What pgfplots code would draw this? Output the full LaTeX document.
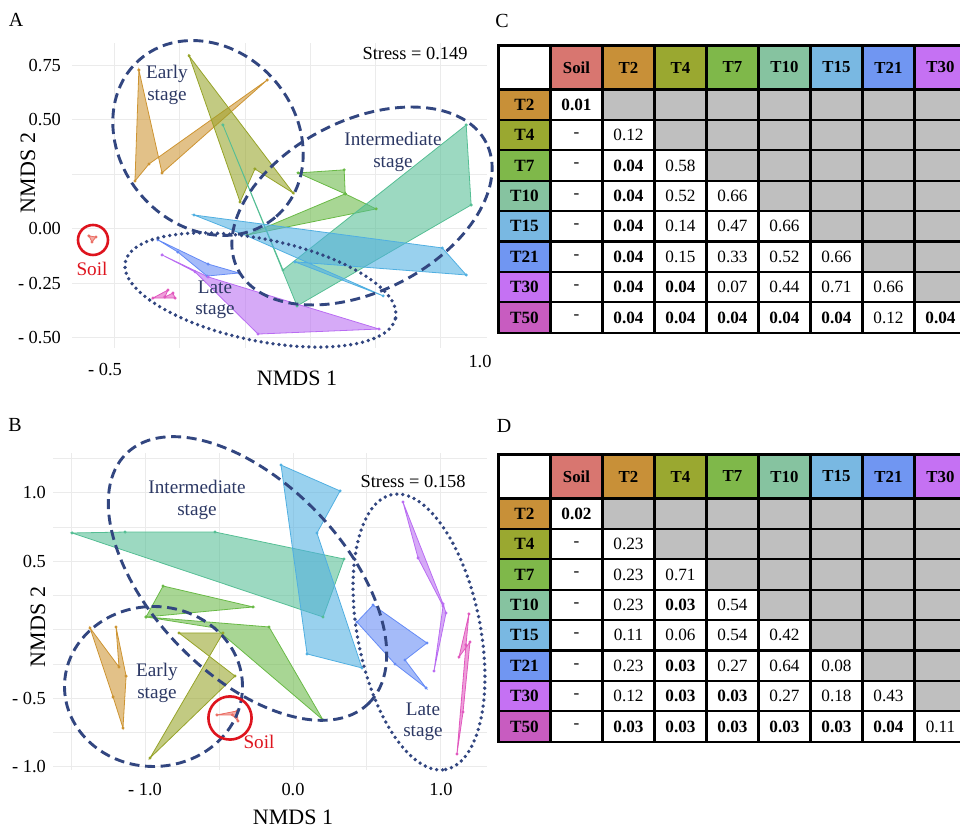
\documentclass[border=0pt]{standalone}
\usepackage{fontspec}
\setmainfont{Liberation Serif}
\usepackage{pgfplots}
\pgfplotsset{compat=1.18}
\usetikzlibrary{matrix}
\definecolor{cSoil}{RGB}{235,110,100}
\definecolor{cT2}{RGB}{205,148,50}
\definecolor{cT4}{RGB}{150,163,40}
\definecolor{cT7}{RGB}{105,185,70}
\definecolor{cT10}{RGB}{85,190,148}
\definecolor{cT15}{RGB}{80,175,225}
\definecolor{cT21}{RGB}{100,138,245}
\definecolor{cT30}{RGB}{185,108,242}
\definecolor{cT50}{RGB}{225,88,190}
\definecolor{hSoil}{RGB}{216,118,112}
\definecolor{hT2}{RGB}{200,144,56}
\definecolor{hT4}{RGB}{154,168,48}
\definecolor{hT7}{RGB}{127,184,74}
\definecolor{hT10}{RGB}{134,195,160}
\definecolor{hT15}{RGB}{121,184,226}
\definecolor{hT21}{RGB}{112,150,242}
\definecolor{hT30}{RGB}{197,113,243}
\definecolor{hT50}{RGB}{200,92,192}
\definecolor{cellgray}{RGB}{191,191,191}
\definecolor{navy}{RGB}{50,70,128}
\definecolor{navytext}{RGB}{44,56,100}
\definecolor{soilred}{RGB}{222,20,30}
\definecolor{gridc}{RGB}{235,235,235}
\pgfplotsset{
  poly/.style={draw=#1, fill=#1, fill opacity=0.58, line width=0.4pt,
    mark=*, mark size=0.55pt, mark options={solid, fill=#1, draw=#1, fill opacity=1}},
  nmds/.style={scale only axis, anchor=south west,
    axis line style={draw=none}, tick style={draw=none},
    grid=major, major grid style={gridc, line width=0.5pt},
    ticklabel style={font=\fontsize{9.2}{10}\selectfont},
  }
}
\tikzset{
  dashell/.style={navy, line width=1.45pt, dash pattern=on 5pt off 2.8pt},
  dotell/.style={navy, line width=1.9pt, dash pattern=on 0pt off 3pt, line cap=round},
  stg/.style={navytext, align=center, font=\fontsize{9.6}{10.6}\selectfont},
  tbl/.style={matrix of nodes, nodes in empty cells, anchor=north west, inner sep=0pt,
    column sep=-1.1pt, row sep=-1.1pt,
    nodes={draw=black, line width=1.1pt, minimum width=26pt, minimum height=15.2pt,
      inner sep=0pt, outer sep=0pt, anchor=center, font=\fontsize{8.6}{9.6}\selectfont},
    row 1/.style={nodes={minimum height=22pt, font=\bfseries\fontsize{8.4}{9.6}\selectfont}},
    column 1/.style={nodes={font=\bfseries\fontsize{8.6}{9.6}\selectfont}}},
  g/.style={fill=cellgray}
}
\begin{document}
\begin{tikzpicture}
\useasboundingbox (0,0) rectangle (480pt,415pt);

% ---------------- Panel A ----------------
\begin{axis}[nmds, at={(36pt,241pt)}, width=207.5pt, height=152.5pt,
  xmin=-0.665, xmax=0.93, ymin=-0.546, ymax=0.853,
  xtick={-0.5,-0.25,0,0.25,0.5,0.75}, xticklabels={,,,,,},
  ytick={-0.5,-0.25,0,0.25,0.5,0.75}, yticklabels={- 0.50,- 0.25,0.00,,0.50,0.75},
  yticklabel style={xshift=-2pt}]
\addplot[poly=cT2] coordinates {(-0.408,0.729) (-0.319,0.257) (0.085,0.683) (-0.369,0.298) (-0.423,0.220)} --cycle;
\addplot[poly=cT4] coordinates {(-0.215,0.794) (-0.019,0.124) (0.038,0.275) (0.185,0.165)} --cycle;
\addplot[poly=cT7] coordinates {(0.204,0.257) (0.381,0.271) (0.385,0.161) (0.504,0.092) (0.008,-0.028) (0.385,0.161)} --cycle;
\addplot[poly=cT10] coordinates {(-0.085,0.477) (0.146,-0.188) (0.85,0.477) (0.869,0.110) (0.2,-0.353)} --cycle;
\addplot[poly=cT15] coordinates {(-0.196,0.064) (0.758,-0.087) (0.85,-0.211) (0.192,-0.151) (0.531,-0.307) (0.008,-0.032)} --cycle;
\addplot[poly=cT21] coordinates {(-0.335,-0.050) (-0.142,-0.161) (-0.023,-0.202) (-0.146,-0.216) (-0.258,-0.106)} --cycle;
\addplot[poly=cT30] coordinates {(-0.319,-0.119) (-0.142,-0.220) (0.515,-0.459) (0.05,-0.482) (-0.192,-0.197)} --cycle;
\addplot[poly=cT50] coordinates {(-0.354,-0.317) (-0.296,-0.280) (-0.308,-0.312) (-0.277,-0.294) (-0.269,-0.317)} --cycle;
\addplot[poly=cSoil] coordinates {(-0.600,-0.032) (-0.573,-0.037) (-0.588,-0.060)} --cycle;
\end{axis}

% ---------------- Panel B ----------------
\begin{axis}[nmds, at={(26.5pt,30pt)}, width=217pt, height=158.5pt,
  xmin=-1.622, xmax=1.311, ymin=-1.022, ymax=1.292,
  xtick={-1.5,-1,-0.5,0,0.5,1}, xticklabels={,- 1.0,,0.0,,1.0},
  xticklabel style={yshift=-3pt},
  ytick={-1,-0.75,-0.5,-0.25,0,0.25,0.5,0.75,1,1.25},
  yticklabels={- 1.0,,- 0.5,,,,0.5,,1.0,}]
\addplot[poly=cT2] coordinates {(-1.372,0.015) (-1.176,-0.270) (-1.196,0.022) (-1.128,-0.336) (-1.149,-0.715) (-1.216,-0.489)} --cycle;
\addplot[poly=cT4] coordinates {(-0.770,-0.022) (-0.473,-0.022) (-0.966,-0.934) (-0.392,-0.336)} --cycle;
\addplot[poly=cT7] coordinates {(-0.878,0.321) (-0.270,0.168) (-0.993,0.095) (-0.162,0.022) (0.203,-0.657) (-0.527,0.015) (-0.993,0.095)} --cycle;
\addplot[poly=cT10] coordinates {(-1.493,0.708) (-1.135,0.715) (-0.527,0.715) (0.345,0.518) (0.203,0.095)} --cycle;
\addplot[poly=cT15] coordinates {(-0.081,1.204) (0.318,1.015) (0.162,0.708) (0.466,-0.277) (0.095,-0.175)} --cycle;
\addplot[poly=cT21] coordinates {(0.432,0.058) (0.541,0.182) (0.905,-0.095) (0.757,-0.219) (0.899,-0.423) (0.689,-0.248)} --cycle;
\addplot[poly=cT30] coordinates {(0.743,0.934) (1.014,0.190) (1.034,0.124) (0.953,-0.299) (1.014,0.175) (0.845,0.526)} --cycle;
\addplot[poly=cT50] coordinates {(1.189,0.117) (1.122,-0.197) (1.196,-0.088) (1.149,-0.599) (1.108,-0.905) (1.169,-0.109)} --cycle;
\addplot[poly=cSoil] coordinates {(-0.514,-0.620) (-0.378,-0.591) (-0.372,-0.664) (-0.41,-0.62)} --cycle;
\end{axis}

% ---------------- Annotations A ----------------
\draw[dashell, rotate around={-49:(104pt,346pt)}] (104pt,346pt) ellipse [x radius=52pt, y radius=44pt];
\draw[dashell, rotate around={27:(181pt,312pt)}] (181pt,312pt) ellipse [x radius=69.7pt, y radius=42.7pt];
\draw[dotell, rotate around={-11.7:(130.25pt,270pt)}] (130.25pt,270pt) ellipse [x radius=69pt, y radius=25.4pt];
\draw[soilred, line width=1.3pt] (46.5pt,295pt) circle [radius=7.5pt];
\node[stg] at (83.5pt,372.5pt) {Early\\stage};
\node[stg] at (196.5pt,339pt) {Intermediate\\stage};
\node[stg] at (107.5pt,265pt) {Late\\stage};
\node[soilred, font=\fontsize{9.6}{10.6}\selectfont] at (46pt,280.5pt) {Soil};
\node[font=\fontsize{9.2}{10}\selectfont] at (207.5pt,388pt) {Stress = 0.149};
\node[font=\fontsize{9.2}{10}\selectfont] at (52.5pt,230pt) {- 0.5};
\node[font=\fontsize{9.2}{10}\selectfont] at (240pt,234pt) {1.0};
\node[font=\fontsize{11}{12}\selectfont] at (148.5pt,226pt) {NMDS 1};
\node[font=\fontsize{11}{12}\selectfont, rotate=90] at (14pt,328.5pt) {NMDS 2};
\node[font=\fontsize{10}{11}\selectfont] at (8pt,405pt) {A};

% ---------------- Annotations B ----------------
\draw[dashell] (76.75pt,71.75pt) ellipse [x radius=44.5pt, y radius=40pt];
\draw[dashell, rotate around={-46:(123.75pt,125.75pt)}] (123.75pt,125.75pt) ellipse [x radius=87pt, y radius=48pt];
\draw[dotell, rotate around={-79:(209.5pt,99pt)}] (209.5pt,99pt) ellipse [x radius=70pt, y radius=30.7pt];
\draw[soilred, line width=1.3pt] (115pt,56pt) circle [radius=10.8pt];
\node[stg] at (98.5pt,165pt) {Intermediate\\stage};
\node[stg] at (78.5pt,73.5pt) {Early\\stage};
\node[stg] at (211.5pt,54pt) {Late\\stage};
\node[soilred, font=\fontsize{9.6}{10.6}\selectfont] at (129.5pt,44pt) {Soil};
\node[font=\fontsize{9.2}{10}\selectfont] at (206.5pt,174pt) {Stress = 0.158};
\node[font=\fontsize{11}{12}\selectfont] at (146.5pt,6.5pt) {NMDS 1};
\node[font=\fontsize{11}{12}\selectfont, rotate=90] at (19pt,101.5pt) {NMDS 2};
\node[font=\fontsize{10}{11}\selectfont] at (7.5pt,202.5pt) {B};

% ---------------- Table C ----------------
\node[font=\fontsize{10}{11}\selectfont] at (251pt,404.5pt) {C};
\matrix[tbl] at (248.5pt,393pt) {
 & |[fill=hSoil]| Soil & |[fill=hT2]| T2 & |[fill=hT4]| T4 & |[fill=hT7]| T7 & |[fill=hT10]| T10 & |[fill=hT15]| T15 & |[fill=hT21]| T21 & |[fill=hT30]| T30 \\
 |[fill=hT2]| T2 & \textbf{0.01} & |[g]| & |[g]| & |[g]| & |[g]| & |[g]| & |[g]| & |[g]| \\
 |[fill=hT4]| T4 & - & 0.12 & |[g]| & |[g]| & |[g]| & |[g]| & |[g]| & |[g]| \\
 |[fill=hT7]| T7 & - & \textbf{0.04} & 0.58 & |[g]| & |[g]| & |[g]| & |[g]| & |[g]| \\
 |[fill=hT10]| T10 & - & \textbf{0.04} & 0.52 & 0.66 & |[g]| & |[g]| & |[g]| & |[g]| \\
 |[fill=hT15]| T15 & - & \textbf{0.04} & 0.14 & 0.47 & 0.66 & |[g]| & |[g]| & |[g]| \\
 |[fill=hT21]| T21 & - & \textbf{0.04} & 0.15 & 0.33 & 0.52 & 0.66 & |[g]| & |[g]| \\
 |[fill=hT30]| T30 & - & \textbf{0.04} & \textbf{0.04} & 0.07 & 0.44 & 0.71 & 0.66 & |[g]| \\
 |[fill=hT50]| T50 & - & \textbf{0.04} & \textbf{0.04} & \textbf{0.04} & \textbf{0.04} & \textbf{0.04} & 0.12 & \textbf{0.04} \\
};

% ---------------- Table D ----------------
\node[font=\fontsize{10}{11}\selectfont] at (252pt,202pt) {D};
\matrix[tbl] at (248.5pt,188.5pt) {
 & |[fill=hSoil]| Soil & |[fill=hT2]| T2 & |[fill=hT4]| T4 & |[fill=hT7]| T7 & |[fill=hT10]| T10 & |[fill=hT15]| T15 & |[fill=hT21]| T21 & |[fill=hT30]| T30 \\
 |[fill=hT2]| T2 & \textbf{0.02} & |[g]| & |[g]| & |[g]| & |[g]| & |[g]| & |[g]| & |[g]| \\
 |[fill=hT4]| T4 & - & 0.23 & |[g]| & |[g]| & |[g]| & |[g]| & |[g]| & |[g]| \\
 |[fill=hT7]| T7 & - & 0.23 & 0.71 & |[g]| & |[g]| & |[g]| & |[g]| & |[g]| \\
 |[fill=hT10]| T10 & - & 0.23 & \textbf{0.03} & 0.54 & |[g]| & |[g]| & |[g]| & |[g]| \\
 |[fill=hT15]| T15 & - & 0.11 & 0.06 & 0.54 & 0.42 & |[g]| & |[g]| & |[g]| \\
 |[fill=hT21]| T21 & - & 0.23 & \textbf{0.03} & 0.27 & 0.64 & 0.08 & |[g]| & |[g]| \\
 |[fill=hT30]| T30 & - & 0.12 & \textbf{0.03} & \textbf{0.03} & 0.27 & 0.18 & 0.43 & |[g]| \\
 |[fill=hT50]| T50 & - & \textbf{0.03} & \textbf{0.03} & \textbf{0.03} & \textbf{0.03} & \textbf{0.03} & \textbf{0.04} & 0.11 \\
};
\end{tikzpicture}
\end{document}
